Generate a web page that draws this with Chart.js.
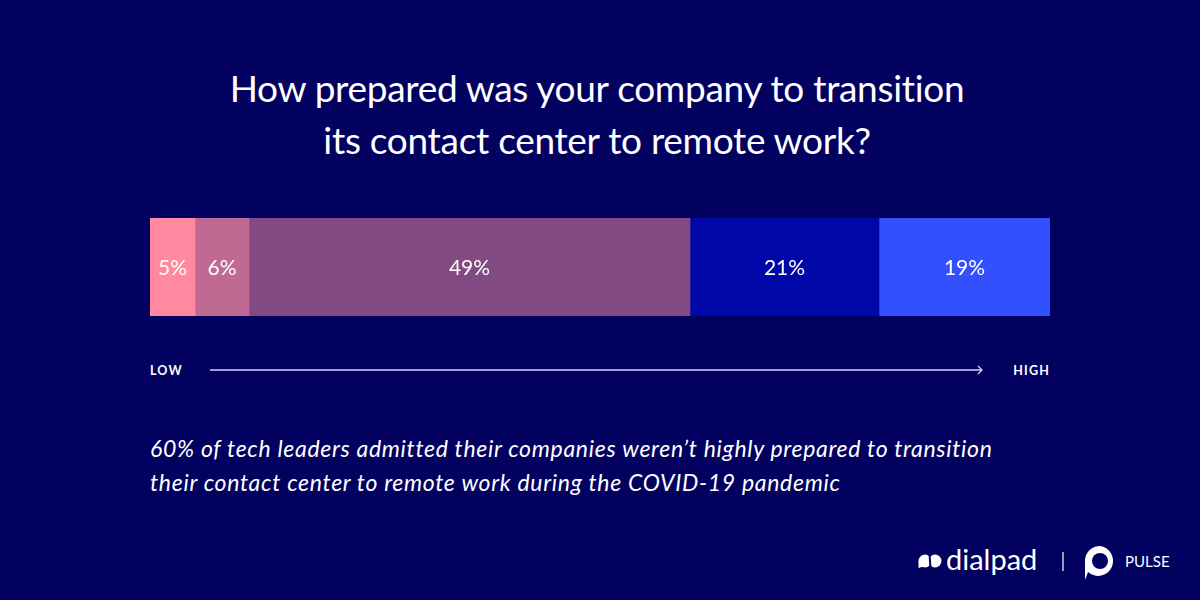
<!DOCTYPE html>
<html>
<head>
<meta charset="utf-8">
<script src="https://cdn.jsdelivr.net/npm/chart.js@4/dist/chart.umd.min.js"></script>
<style>
  html, body { margin: 0; padding: 0; }
  body {
    width: 1200px; height: 600px; overflow: hidden; position: relative;
    background: #03015f; color: #fff; font-family: Lato, "Noto Sans", sans-serif;
  }
  .title {
    position: absolute; left: 0; top: 62px; width: 1194px; text-align: center;
    font-size: 37px; line-height: 52px; font-weight: 400; letter-spacing: -0.3px;
  }
  .chartBox { position: absolute; left: 150px; top: 218px; width: 900px; height: 98px; }
  .scale { position: absolute; top: 363px; font-size: 12.5px; font-weight: 700; letter-spacing: 1.2px; }
  .caption {
    position: absolute; left: 150px; top: 431px; font-size: 23px; line-height: 34px;
    font-style: italic; font-weight: 400; letter-spacing: 0.7px;
  }
  .footer { position: absolute; left: 0; top: 540px; }
</style>
</head>
<body>
<div class="title">How prepared was your company to transition<br>its contact center to remote work?</div>
<div class="chartBox"><canvas id="prepChart"></canvas></div>
<div class="scale" style="left:150px">LOW</div>
<div class="scale" style="right:150px">HIGH</div>
<svg style="position:absolute;left:0;top:360px" width="1200" height="20">
  <line x1="210" y1="10" x2="982" y2="10" stroke="#d8d4f4" stroke-width="1.3"/>
  <polyline points="978,6 982,10 978,14" fill="none" stroke="#d8d4f4" stroke-width="1.3"/>
</svg>
<div class="caption">60% of tech leaders admitted their companies weren’t highly prepared to transition<br>their contact center to remote work during the COVID-19 pandemic</div>
<svg class="footer" width="1200" height="50">
  <!-- dialpad mark -->
  <circle cx="925" cy="21" r="6.5" fill="#fff"/>
  <circle cx="935" cy="21" r="6.5" fill="#fff"/>
  <polygon points="918.5,21 918.5,28 925,26" fill="#fff"/>
  <line x1="929.5" y1="14" x2="930.5" y2="28" stroke="#03015f" stroke-width="2"/>
  <text x="946" y="30" font-family="Lato, sans-serif" font-size="29" fill="#fff">dialpad</text>
  <line x1="1063" y1="12" x2="1063" y2="31" stroke="#fff" stroke-width="1.2"/>
  <!-- pulse mark -->
  <path d="M1100,6 a15,15 0 1 1 -12,26 l-3,8 l0,-20 a15,15 0 0 1 15,-14 z" fill="#fff"/>
  <circle cx="1100" cy="21" r="8" fill="#03015f"/>
  <text x="1125" y="27" font-family="Lato, sans-serif" font-size="15" fill="#fff">PULSE</text>
</svg>

<script>
const categories = ['Preparedness'];
const segmentLabels = ['Very low', 'Low', 'Moderate', 'High', 'Very high'];
const segmentValues = [5, 6, 49, 21, 19];
const segmentColors = ['#ff8aa0', '#bf6a93', '#814a82', '#0007a8', '#3350ff'];

const barLabels = {
  id: 'barLabels',
  afterDatasetsDraw(chart) {
    const ctx = chart.ctx;
    ctx.save();
    ctx.fillStyle = '#fff';
    ctx.font = '400 21px Lato, "Noto Sans", sans-serif';
    ctx.textAlign = 'center';
    ctx.textBaseline = 'middle';
    chart.data.datasets.forEach((ds, i) => {
      chart.getDatasetMeta(i).data.forEach((bar, j) => {
        const c = bar.getCenterPoint();
        ctx.fillText(ds.data[j] + '%', c.x, c.y + 1);
      });
    });
    ctx.restore();
  }
};

new Chart(document.getElementById('prepChart'), {
  type: 'bar',
  data: {
    labels: categories,
    datasets: segmentValues.map((v, i) => ({
      label: segmentLabels[i],
      data: [v],
      backgroundColor: segmentColors[i],
      borderWidth: 0,
      barPercentage: 1,
      categoryPercentage: 1
    }))
  },
  options: {
    indexAxis: 'y',
    responsive: true,
    maintainAspectRatio: false,
    animation: false,
    layout: { padding: 0 },
    plugins: { legend: { display: false }, tooltip: { enabled: false } },
    scales: {
      x: { stacked: true, min: 0, max: 100, display: false },
      y: { stacked: true, display: false }
    }
  },
  plugins: [barLabels]
});
</script>
</body>
</html>
